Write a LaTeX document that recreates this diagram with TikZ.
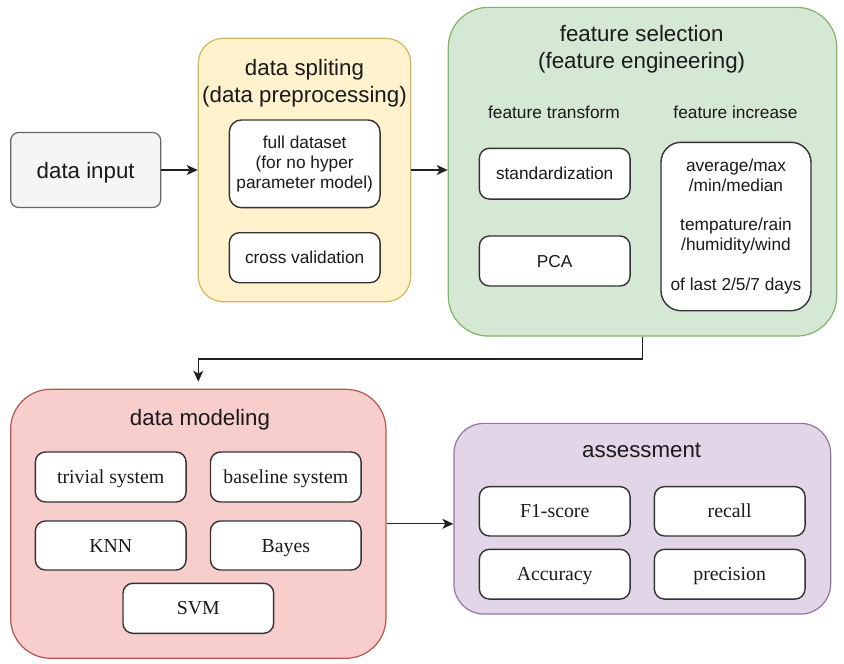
\documentclass[tikz,border=0pt]{standalone}
\usepackage{fontspec}
\setmainfont{Liberation Serif}
\newfontfamily\sansf{Liberation Sans}
\usetikzlibrary{arrows.meta}
\definecolor{txt}{HTML}{1A1A1A}
\definecolor{ingray}{HTML}{F5F5F5}
\definecolor{inedge}{HTML}{666666}
\definecolor{yfill}{HTML}{FFF2CC}
\definecolor{yedge}{HTML}{D6B656}
\definecolor{gfill}{HTML}{D5E8D4}
\definecolor{gedge}{HTML}{82B366}
\definecolor{rfill}{HTML}{F8CECC}
\definecolor{redge}{HTML}{B85450}
\definecolor{pfill}{HTML}{E1D5E7}
\definecolor{pedge}{HTML}{9673A6}
\definecolor{boxedge}{HTML}{333333}
\definecolor{arrcol}{HTML}{222222}
\tikzset{
  container/.style={draw, line width=1.2pt, inner sep=0pt, rectangle},
  inbox/.style={draw=boxedge, fill=white, line width=1.4pt, inner sep=0pt, rectangle,
     rounded corners=10pt, minimum width=150.7pt, minimum height=50pt, text=txt,
     align=center},
  sanssmall/.style={font=\sansf\fontsize{17.3}{20}\selectfont},
  sansone/.style={sanssmall, text height=12.4pt, text depth=0pt},
  serifsmall/.style={font=\fontsize{19.8}{23}\selectfont, text height=13pt, text depth=0pt},
  title/.style={text=txt, align=center, inner sep=0pt, font=\sansf\fontsize{22.3}{26.7}\selectfont},
  sublabel/.style={text=txt, inner sep=0pt, font=\sansf\fontsize{17.3}{20}\selectfont},
  arr/.style={draw=arrcol, line width=1.3pt, -{Stealth[length=11pt,width=10pt,inset=3pt]}}
}
\begin{document}
\begin{tikzpicture}[x=1pt,y=-1pt]
\useasboundingbox (0,0) rectangle (844,664);

% data input
\node[container, draw=inedge, fill=ingray, rounded corners=8pt, minimum width=150pt,
  minimum height=75pt, text=txt, font=\sansf\fontsize{22.3}{26.7}\selectfont,
  text height=16pt, text depth=0pt] (in) at (85.7,170) {data input};

% data spliting
\node[container, draw=yedge, fill=yfill, rounded corners=25pt, minimum width=212.4pt,
  minimum height=263.4pt] (split) at (304.5,170) {};
\node[title] (splitT) at (304.5,83.3) {data spliting\\(data preprocessing)};
\node[inbox, sanssmall, minimum height=87.7pt, rounded corners=12pt] (full) at (304.7,163.8)
  {full dataset\\ (for no hyper\\parameter model)};
\node[inbox, sansone] (cv) at (304.7,257.7) {cross validation};

% feature selection
\node[container, draw=gedge, fill=gfill, rounded corners=40pt, minimum width=388.4pt,
  minimum height=328.7pt] (feat) at (642.5,171.7) {};
\node[title] (featT) at (641.7,49) {feature selection\\(feature engineering)};
\node[sublabel] (ftr) at (554,112.3) {feature transform};
\node[sublabel] (finc) at (735.5,112.3) {feature increase};
\node[inbox, sansone, minimum height=50.7pt] (std) at (554.7,173.7) {standardization};
\node[inbox, sansone] (pca) at (554.7,261) {PCA};
\node[inbox, sanssmall, minimum width=150pt, minimum height=168.4pt, rounded corners=20pt,
  font=\sansf\fontsize{17.3}{19.7}\selectfont] (inc) at (736,226.5)
  {average/max\\/min/median\\[19.7pt]tempature/rain\\/humidity/wind\\[19.7pt]of last 2/5/7 days};

% data modeling
\node[container, draw=redge, fill=rfill, rounded corners=40pt, minimum width=375.3pt,
  minimum height=269pt] (model) at (198.3,523.8) {};
\node[title] (modelT) at (200,420) {data modeling};
\node[inbox, serifsmall] (triv) at (110.7,477) {trivial system};
\node[inbox, serifsmall] (base) at (285.8,477) {baseline system};
\node[inbox, serifsmall, minimum height=49pt] (knn) at (110.7,545.5) {KNN};
\node[inbox, serifsmall, minimum height=49pt] (bayes) at (285.8,545.5) {Bayes};
\node[inbox, serifsmall] (svm) at (198.3,608.3) {SVM};

% assessment
\node[container, draw=pedge, fill=pfill, rounded corners=30pt, minimum width=376.7pt,
  minimum height=190.7pt] (assess) at (642.3,518.7) {};
\node[title] (assessT) at (641.7,450) {assessment};
\node[inbox, serifsmall, minimum height=49.3pt] (f1) at (554.7,511.3) {F1-score};
\node[inbox, serifsmall, minimum height=49.3pt] (recall) at (729.7,511.3) {recall};
\node[inbox, serifsmall, minimum height=49.7pt] (acc) at (554.7,574.2) {Accuracy};
\node[inbox, serifsmall, minimum height=49.7pt] (prec) at (729.7,574.2) {precision};

% connectors
\draw[arr] (in.east) -- (in.east -| split.west);
\draw[arr] (split.east) -- (split.east -| feat.west);
\draw[arr] (feat.south) -- ++(0,22.3) -| ([yshift=7pt]model.north);
\draw[arr] (model.east) -- (model.east -| assess.west);
\end{tikzpicture}
\end{document}
